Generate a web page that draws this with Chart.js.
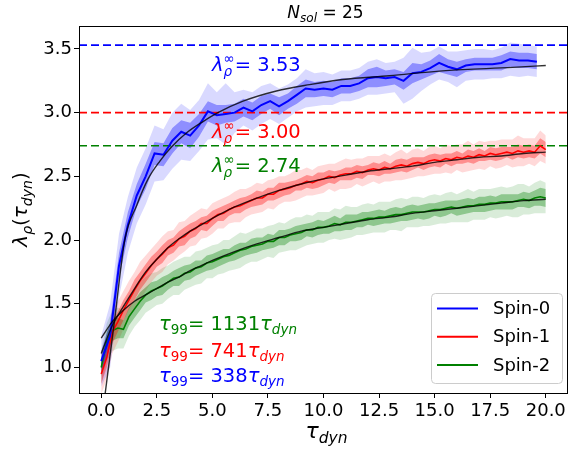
<!DOCTYPE html>
<html lang="en">
<head>
<meta charset="UTF-8">
<title>lambda_rho vs tau_dyn, N_sol = 25</title>
<script src="https://cdn.jsdelivr.net/npm/chart.js"></script>
<style>
  html, body { margin: 0; padding: 0; background: #fff; }
  #wrap { width: 571px; height: 451px; }
</style>
</head>
<body>
<div id="wrap"><canvas id="chart" width="571" height="451"></canvas></div>
<script>
// ---- data ----
const xTicks = [0, 2.5, 5, 7.5, 10, 12.5, 15, 17.5, 20];
const yTicks = [1.0, 1.5, 2.0, 2.5, 3.0, 3.5];

// Spin-0 (blue), sampled about every 0.4 tau_dyn
const blueX = [0,0.4,0.8,1.2,1.6,2,2.4,2.8,3.2,3.6,4,4.4,4.8,5.2,5.6,6,6.4,6.8,7.2,7.6,8,8.4,8.8,9.2,9.6,10,10.4,10.8,11.2,11.6,12,12.4,12.8,13.2,13.6,14,14.4,14.8,15.2,15.6,16,16.4,16.8,17.2,17.6,18,18.4,18.8,19.2,19.6];
const blueY = [1.05,1.25,1.8,2.12,2.35,2.5,2.68,2.67,2.78,2.85,2.82,2.9,3.01,2.98,2.99,3.0,3.04,3.01,3.06,3.09,3.05,3.09,3.14,3.19,3.18,3.19,3.18,3.21,3.21,3.23,3.27,3.28,3.27,3.28,3.25,3.31,3.32,3.35,3.39,3.36,3.34,3.37,3.38,3.38,3.38,3.39,3.42,3.41,3.41,3.40];
const blueIn = [0.08,0.1,0.1,0.1,0.09,0.1,0.09,0.09,0.1,0.09,0.1,0.09,0.08,0.08,0.07,0.07,0.07,0.07,0.07,0.06,0.07,0.06,0.07,0.07,0.06,0.06,0.06,0.06,0.06,0.06,0.07,0.08,0.06,0.06,0.07,0.08,0.06,0.06,0.07,0.06,0.06,0.05,0.05,0.05,0.05,0.06,0.06,0.06,0.06,0.06];
const blueOut = [0.2,0.25,0.25,0.22,0.22,0.22,0.22,0.2,0.22,0.22,0.2,0.2,0.22,0.18,0.24,0.16,0.14,0.15,0.15,0.14,0.14,0.13,0.13,0.15,0.13,0.13,0.12,0.12,0.12,0.12,0.13,0.14,0.12,0.12,0.18,0.2,0.15,0.13,0.13,0.12,0.14,0.12,0.12,0.12,0.11,0.12,0.13,0.13,0.12,0.12];

// Spin-1 (red) and Spin-2 (green), sampled every 0.25 tau_dyn
const finX = [0,0.25,0.5,0.75,1,1.25,1.5,1.75,2,2.25,2.5,2.75,3,3.25,3.5,3.75,4,4.25,4.5,4.75,5,5.25,5.5,5.75,6,6.25,6.5,6.75,7,7.25,7.5,7.75,8,8.25,8.5,8.75,9,9.25,9.5,9.75,10,10.25,10.5,10.75,11,11.25,11.5,11.75,12,12.25,12.5,12.75,13,13.25,13.5,13.75,14,14.25,14.5,14.75,15,15.25,15.5,15.75,16,16.25,16.5,16.75,17,17.25,17.5,17.75,18,18.25,18.5,18.75,19,19.25,19.5,19.75,20];
const redY = [0.95,1.08,1.28,1.36,1.45,1.53,1.61,1.68,1.74,1.80,
  1.85,1.89,1.94,1.96,2.01,2.03,2.07,2.09,2.13,2.13,
  2.17,2.20,2.21,2.24,2.26,2.27,2.29,2.31,2.33,2.33,
  2.36,2.36,2.39,2.40,2.41,2.43,2.44,2.46,2.45,2.47,
  2.48,2.50,2.49,2.51,2.52,2.52,2.54,2.53,2.55,2.56,
  2.55,2.57,2.56,2.58,2.59,2.58,2.60,2.61,2.60,2.62,
  2.63,2.62,2.64,2.63,2.65,2.64,2.66,2.65,2.67,2.66,
  2.68,2.67,2.68,2.69,2.68,2.70,2.69,2.70,2.69,2.74,2.71];
const redIn = [0.08,0.08,0.09,0.08,0.08,0.07,0.08,0.07,0.07,0.07,
  0.06,0.07,0.06,0.06,0.06,0.07,0.06,0.06,0.05,0.06,
  0.06,0.05,0.06,0.05,0.05,0.06,0.05,0.05,0.06,0.05,
  0.05,0.05,0.06,0.05,0.05,0.04,0.05,0.05,0.05,0.06,
  0.05,0.05,0.05,0.04,0.05,0.05,0.05,0.05,0.04,0.05,
  0.05,0.05,0.04,0.05,0.05,0.05,0.05,0.04,0.05,0.05,
  0.05,0.05,0.04,0.05,0.05,0.04,0.05,0.05,0.05,0.04,
  0.05,0.05,0.05,0.04,0.05,0.05,0.05,0.05,0.05,0.06,0.06];
const redOut = [0.16,0.17,0.17,0.16,0.15,0.15,0.14,0.15,0.14,0.13,
  0.13,0.14,0.13,0.12,0.13,0.12,0.12,0.13,0.12,0.11,
  0.12,0.11,0.12,0.11,0.12,0.13,0.11,0.11,0.12,0.11,
  0.11,0.12,0.11,0.10,0.11,0.12,0.11,0.11,0.10,0.11,
  0.11,0.10,0.11,0.11,0.12,0.11,0.10,0.11,0.11,0.10,
  0.11,0.11,0.10,0.11,0.12,0.10,0.11,0.11,0.10,0.11,
  0.11,0.10,0.11,0.11,0.10,0.11,0.12,0.10,0.11,0.11,
  0.10,0.11,0.11,0.10,0.11,0.12,0.11,0.10,0.11,0.12,0.11];
const greenY = [1.00,1.20,1.29,1.31,1.30,1.40,1.46,1.52,1.57,1.60,
  1.62,1.64,1.67,1.70,1.71,1.74,1.75,1.78,1.79,1.82,
  1.83,1.85,1.87,1.88,1.90,1.92,1.93,1.95,1.96,1.97,
  1.99,1.99,2.02,2.02,2.04,2.05,2.06,2.08,2.08,2.10,
  2.10,2.11,2.13,2.12,2.14,2.14,2.15,2.16,2.17,2.17,
  2.18,2.18,2.19,2.20,2.20,2.21,2.22,2.22,2.22,2.23,
  2.24,2.24,2.25,2.26,2.25,2.26,2.27,2.27,2.28,2.28,
  2.29,2.29,2.30,2.30,2.30,2.31,2.32,2.31,2.33,2.34,2.33];
const greenIn = [0.07,0.08,0.08,0.08,0.07,0.07,0.07,0.07,0.06,0.07,
  0.06,0.07,0.06,0.06,0.07,0.06,0.06,0.06,0.05,0.06,
  0.06,0.06,0.06,0.05,0.06,0.06,0.05,0.06,0.06,0.05,
  0.06,0.05,0.06,0.06,0.05,0.06,0.06,0.05,0.06,0.06,
  0.05,0.06,0.06,0.05,0.06,0.06,0.05,0.06,0.05,0.06,
  0.06,0.05,0.06,0.06,0.05,0.06,0.06,0.05,0.06,0.06,
  0.05,0.06,0.06,0.05,0.06,0.06,0.06,0.05,0.06,0.06,
  0.06,0.05,0.06,0.06,0.06,0.05,0.06,0.06,0.06,0.07,0.07];
const greenOut = [0.13,0.15,0.16,0.16,0.15,0.15,0.14,0.15,0.14,0.14,
  0.13,0.14,0.13,0.13,0.14,0.13,0.12,0.13,0.13,0.12,
  0.13,0.12,0.13,0.12,0.13,0.14,0.12,0.12,0.13,0.12,
  0.12,0.13,0.12,0.11,0.12,0.13,0.12,0.12,0.11,0.12,
  0.12,0.11,0.12,0.12,0.13,0.12,0.11,0.12,0.12,0.11,
  0.12,0.12,0.11,0.12,0.13,0.11,0.12,0.12,0.11,0.12,
  0.12,0.11,0.12,0.12,0.11,0.12,0.13,0.11,0.12,0.12,
  0.11,0.12,0.12,0.11,0.12,0.13,0.12,0.11,0.12,0.13,0.12];

// fitted curves (black)
const blueFitX = [0.1,0.62,1.06,1.59,2.11,2.64,3.16,3.83,4.58,5.25,6.38,7.88,9.37,10.87,12.96,15.5,18.5,20];
const blueFitY = [0.69,1.40,2.0,2.27,2.48,2.62,2.73,2.84,2.93,3.0,3.09,3.17,3.22,3.26,3.29,3.33,3.355,3.37];
const fitX = [0,0.5,1,1.5,2,2.5,3,3.5,4,4.5,5,6,7,8,9,10,11,12,13,14,15,16,17,18,19,20];
const redFitY = [1.11,1.33,1.48,1.62,1.75,1.85,1.94,2.01,2.07,2.12,2.17,2.26,2.33,2.39,2.44,2.48,2.51,2.54,2.56,2.58,2.61,2.63,2.65,2.66,2.68,2.69];
const greenFitY = [1.23,1.36,1.45,1.52,1.57,1.62,1.67,1.71,1.76,1.80,1.84,1.91,1.97,2.02,2.07,2.10,2.13,2.16,2.18,2.21,2.23,2.25,2.27,2.29,2.31,2.32];

// asymptotes and timescales
const spinNames = ['Spin-0', 'Spin-1', 'Spin-2'];
const lamInf = [3.53, 3.00, 2.74];
const tau99 = [338, 741, 1131];
const nSol = 25;

const FF = '"DejaVu Sans", sans-serif';
const COL = ['#0000ff', '#ff0000', '#008000'];
const RGB = ['0,0,255', '255,0,0', '0,128,0'];

function pts(xs, ys, hw, sgn) {
  return xs.map((x, i) => ({ x: x, y: ys[i] + (hw ? sgn * hw[i] : 0) }));
}

const datasets = [];
function addSeries(k, xs, ys, hin, hout, fx, fy) {
  const base = { pointRadius: 0, borderWidth: 0, tension: 0 };
  datasets.push(Object.assign({}, base, { data: pts(xs, ys, hout, -1), fill: false, order: 6 }));
  datasets.push(Object.assign({}, base, { data: pts(xs, ys, hout, 1), fill: '-1', backgroundColor: 'rgba(' + RGB[k] + ',0.15)', order: 6 }));
  datasets.push(Object.assign({}, base, { data: pts(xs, ys, hin, -1), fill: false, order: 5 }));
  datasets.push(Object.assign({}, base, { data: pts(xs, ys, hin, 1), fill: '-1', backgroundColor: 'rgba(' + RGB[k] + ',0.35)', order: 5 }));
  datasets.push({ data: pts(xs, ys), borderColor: COL[k], borderWidth: k === 0 ? 2 : 1.6, pointRadius: 0, fill: false, tension: 0, order: 2 });
  datasets.push({ data: pts(fx, fy), borderColor: 'rgba(0,0,0,0.8)', borderWidth: 1.4, pointRadius: 0, fill: false, cubicInterpolationMode: 'monotone', order: 1 });
}
addSeries(0, blueX, blueY, blueIn, blueOut, blueFitX, blueFitY);
addSeries(1, finX, redY, redIn, redOut, fitX, redFitY);
addSeries(2, finX, greenY, greenIn, greenOut, fitX, greenFitY);
lamInf.forEach((v, k) => {
  datasets.push({ data: [{ x: -1, y: v }, { x: 21, y: v }], borderColor: COL[k], borderWidth: 1.6,
    borderDash: [8, 4], pointRadius: 0, fill: false, order: 3 });
});

// ---- rich text helper (sub/superscripts) ----
function fnt(size, it) { return (it ? 'italic ' : '') + size + 'px ' + FF; }
function drawRich(ctx, runs, x, y, align, color) {
  let prevStart = 0, end = 0;
  const placed = runs.map(r => {
    ctx.font = fnt(r.s, r.it);
    const w = ctx.measureText(r.t).width;
    const start = r.stack ? prevStart : end;
    prevStart = start;
    end = Math.max(end, start + w);
    return { r: r, start: start };
  });
  const x0 = align === 'center' ? x - end / 2 : (align === 'right' ? x - end : x);
  ctx.fillStyle = color;
  ctx.textBaseline = 'alphabetic';
  ctx.textAlign = 'left';
  placed.forEach(p => {
    ctx.font = fnt(p.r.s, p.r.it);
    ctx.fillText(p.r.t, x0 + p.start, y + (p.r.dy || 0));
  });
}

const deco = {
  id: 'deco',
  afterDatasetsDraw(chart) {
    const ctx = chart.ctx;
    ctx.save();
    const lamBase = [71, 138, 172];
    lamInf.forEach((v, k) => {
      drawRich(ctx, [
        { t: 'λ', s: 19.5, it: true },
        { t: 'ρ', s: 13.5, it: true, dy: 5 },
        { t: '∞', s: 13.5, dy: -8, stack: true },
        { t: '= ' + v.toFixed(2), s: 19.5 }
      ], 212, lamBase[k], 'left', COL[k]);
    });
    const tauBase = [381.5, 356.5, 329.5];
    tau99.forEach((v, k) => {
      drawRich(ctx, [
        { t: 'τ', s: 19.5, it: true },
        { t: '99', s: 13.5, dy: 4 },
        { t: '= ' + v, s: 19.5 },
        { t: 'τ', s: 19.5, it: true },
        { t: 'dyn', s: 13.5, it: true, dy: 4 }
      ], 159, tauBase[k], 'left', COL[k]);
    });
    ctx.restore();
  },
  afterDraw(chart) {
    const ctx = chart.ctx, a = chart.chartArea;
    ctx.save();
    // box spines
    ctx.strokeStyle = '#000';
    ctx.lineWidth = 1;
    ctx.strokeRect(Math.round(a.left) + 0.5, Math.round(a.top) + 0.5,
      Math.round(a.right - a.left) - 1, Math.round(a.bottom - a.top));
    const cx = (a.left + a.right) / 2;
    // title
    drawRich(ctx, [
      { t: 'N', s: 17, it: true },
      { t: 'sol', s: 12, it: true, dy: 4 },
      { t: ' = ' + nSol, s: 17 }
    ], cx + 2, 17.5, 'center', '#000');
    // x label
    drawRich(ctx, [
      { t: 'τ', s: 22, it: true },
      { t: 'dyn', s: 15.5, it: true, dy: 5 }
    ], cx + 3, 438, 'center', '#000');
    // y label (rotated)
    ctx.save();
    ctx.translate(27, (a.top + a.bottom) / 2);
    ctx.rotate(-Math.PI / 2);
    drawRich(ctx, [
      { t: 'λ', s: 20, it: true },
      { t: 'ρ', s: 14, it: true, dy: 5 },
      { t: '(', s: 20 },
      { t: 'τ', s: 20, it: true },
      { t: 'dyn', s: 14, it: true, dy: 5 },
      { t: ')', s: 20 }
    ], 0, 0, 'center', '#000');
    ctx.restore();
    // legend
    const bw = 131, bh = 90;
    const bx = Math.round(a.right) - 6 - bw, by = Math.round(a.bottom) - 10 - bh;
    ctx.beginPath();
    ctx.roundRect(bx + 0.5, by + 0.5, bw, bh, 4);
    ctx.fillStyle = 'rgba(255,255,255,0.8)';
    ctx.fill();
    ctx.strokeStyle = '#cccccc';
    ctx.stroke();
    spinNames.forEach((name, k) => {
      const ry = by + 15.5 + k * 28.3;
      ctx.beginPath();
      ctx.moveTo(bx + 6, ry);
      ctx.lineTo(bx + 47, ry);
      ctx.strokeStyle = COL[k];
      ctx.lineWidth = 2;
      ctx.stroke();
      ctx.fillStyle = '#000';
      ctx.font = fnt(18, false);
      ctx.textAlign = 'left';
      ctx.textBaseline = 'middle';
      ctx.fillText(name, bx + 62, ry + 1);
    });
    ctx.restore();
  }
};

new Chart(document.getElementById('chart'), {
  type: 'line',
  data: { datasets: datasets },
  options: {
    responsive: false,
    animation: false,
    devicePixelRatio: 1,
    layout: { padding: { top: 26, right: 3, left: 0, bottom: 0 } },
    plugins: { legend: { display: false }, tooltip: { enabled: false } },
    scales: {
      x: {
        type: 'linear', min: -1, max: 21,
        afterBuildTicks: s => { s.ticks = xTicks.map(v => ({ value: v })); },
        afterFit: s => { s.height = 58; },
        ticks: { callback: v => v.toFixed(1), color: '#000', font: { family: FF, size: 18 }, padding: 3, maxRotation: 0, autoSkip: false },
        grid: { display: true, drawOnChartArea: false, drawTicks: true, tickLength: 5, color: '#000' },
        border: { display: false }
      },
      y: {
        type: 'linear', min: 0.8, max: 3.68,
        afterBuildTicks: s => { s.ticks = yTicks.map(v => ({ value: v })); },
        afterFit: s => { s.width = 79; },
        ticks: { callback: v => v.toFixed(1), color: '#000', font: { family: FF, size: 18 }, padding: 2, autoSkip: false },
        grid: { display: true, drawOnChartArea: false, drawTicks: true, tickLength: 5, color: '#000' },
        border: { display: false }
      }
    }
  },
  plugins: [deco]
});
</script>
</body>
</html>
